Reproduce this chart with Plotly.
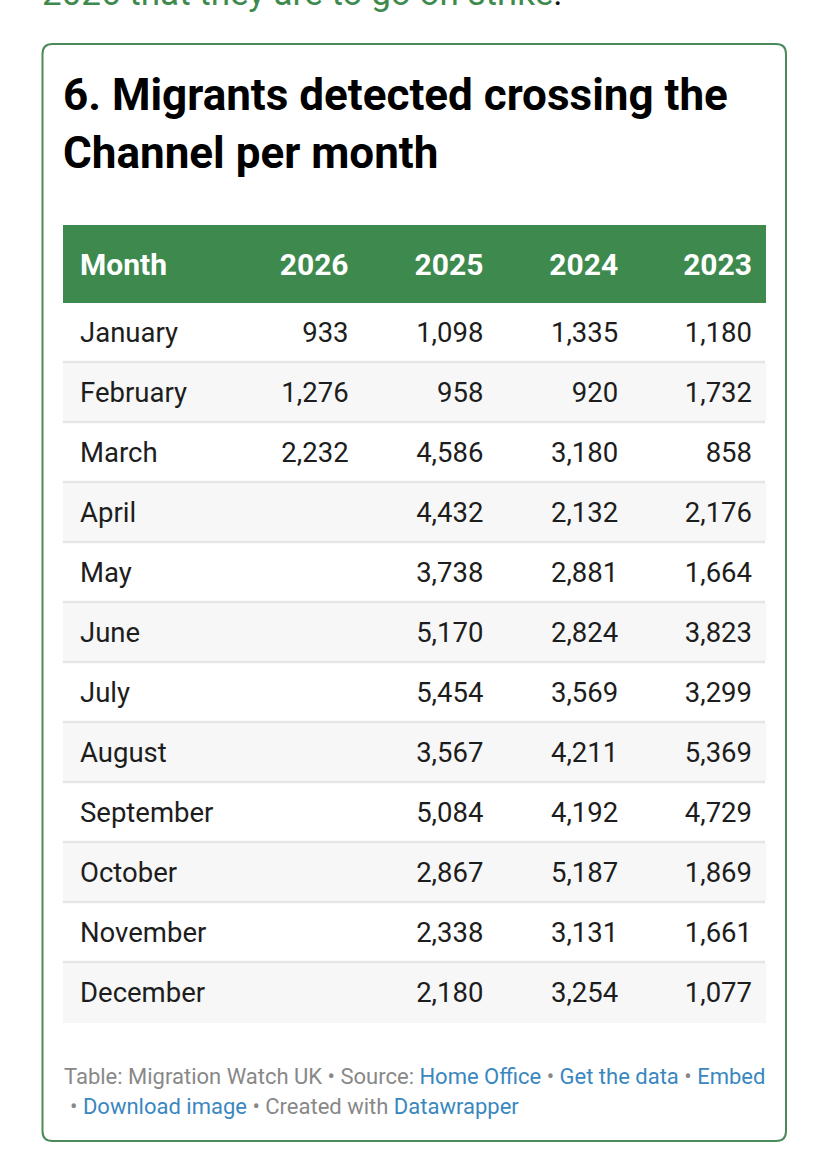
import plotly.graph_objects as go

W, H = 828, 1158

months = ["January", "February", "March", "April", "May", "June", "July",
          "August", "September", "October", "November", "December"]
years = ["2026", "2025", "2024", "2023"]
v2026 = [933, 1276, 2232, None, None, None, None, None, None, None, None, None]
v2025 = [1098, 958, 4586, 4432, 3738, 5170, 5454, 3567, 5084, 2867, 2338, 2180]
v2024 = [1335, 920, 3180, 2132, 2881, 2824, 3569, 4211, 4192, 5187, 3131, 3254]
v2023 = [1180, 1732, 858, 2176, 1664, 3823, 3299, 5369, 4729, 1869, 1661, 1077]

title_lines = ["6. Migrants detected crossing the", "Channel per month"]
GREEN = "#3e8a4e"
GREY = "#888888"
BLUE = "#3a87c0"

def X(px):
    return px / W

def Y(py):
    return 1 - py / H

def fmt(v):
    return "" if v is None else f"{v:,}"

cols = [months] + [[fmt(v) for v in s] for s in (v2026, v2025, v2024, v2023)]
row_fill = ["#ffffff" if i % 2 == 0 else "#f7f7f7" for i in range(len(months))]
fills = [row_fill for _ in cols]
aligns = ["left", "right", "right", "right", "right"]

TABLE_L, TABLE_R, TABLE_T = 63, 765, 225
HEADER_H, ROW_H = 77, 60
TABLE_B = TABLE_T + HEADER_H + ROW_H * len(months)

fig = go.Figure()
# background layer: fills only
fig.add_trace(go.Table(
    domain=dict(x=[X(TABLE_L), X(TABLE_R)], y=[Y(TABLE_B + 4), Y(TABLE_T)]),
    columnwidth=[162, 135, 135, 135, 135],
    header=dict(values=["", "", "", "", ""], fill_color=GREEN,
                line=dict(color=GREEN, width=1), height=HEADER_H),
    cells=dict(values=[["" for _ in months] for _ in cols],
               fill=dict(color=fills), line=dict(color=fills, width=1),
               height=ROW_H),
))

# text layer, offset so text sits vertically centred in the rows
DH, DC = 14, 11   # vertical text offsets (header, cells)
TL, TR = 72, 761
fig.add_trace(go.Table(
    domain=dict(x=[X(TL), X(TR)], y=[Y(TABLE_B + DC + 10), Y(TABLE_T + DH)]),
    columnwidth=[150, 135, 135, 135, 134],
    header=dict(
        values=["<b>Month</b>"] + [f"<b>{y}</b>" for y in years],
        fill_color="rgba(0,0,0,0)",
        line=dict(color="rgba(0,0,0,0)", width=0),
        align=aligns,
        font=dict(family="Roboto", size=30, color="white"),
        height=HEADER_H + DC - DH,
    ),
    cells=dict(
        values=cols,
        fill=dict(color="rgba(0,0,0,0)"),
        line=dict(color="rgba(0,0,0,0)", width=0),
        align=aligns,
        font=dict(family="Roboto", size=27.5, color="#1d1d1d"),
        height=ROW_H,
    ),
))

shapes = []
# row separators
for i in range(1, len(months)):
    yy = TABLE_T + HEADER_H + ROW_H * i
    shapes.append(dict(type="line", xref="paper", yref="paper",
                       x0=X(TABLE_L), x1=X(TABLE_R), y0=Y(yy), y1=Y(yy),
                       line=dict(color="#e6e6e6", width=2.5), layer="above"))

# rounded card border
x0, x1, y0, y1, r = 42.5, 786, 44, 1141, 10
path = (f"M {X(x0 + r)},{Y(y0)} L {X(x1 - r)},{Y(y0)} "
        f"Q {X(x1)},{Y(y0)} {X(x1)},{Y(y0 + r)} "
        f"L {X(x1)},{Y(y1 - r)} Q {X(x1)},{Y(y1)} {X(x1 - r)},{Y(y1)} "
        f"L {X(x0 + r)},{Y(y1)} Q {X(x0)},{Y(y1)} {X(x0)},{Y(y1 - r)} "
        f"L {X(x0)},{Y(y0 + r)} Q {X(x0)},{Y(y0)} {X(x0 + r)},{Y(y0)} Z")
shapes.append(dict(type="path", xref="paper", yref="paper", path=path,
                   line=dict(color="#4a8a5a", width=2)))

annotations = []
# cut-off text above card (as in the reference)
annotations.append(dict(text="2026 that they are to go on strike<span style='color:#111'>.</span>",
                        x=X(40), y=Y(-7),
                        xref="paper", yref="paper", xanchor="left", yanchor="middle",
                        showarrow=False, font=dict(family="Roboto", size=35, color="#3e8a4e")))
for i, line in enumerate(title_lines):
    annotations.append(dict(text=f"<b>{line}</b>", x=X(61), y=Y(95 + 58 * i),
                            xref="paper", yref="paper", xanchor="left", yanchor="middle",
                            showarrow=False,
                            font=dict(family="Roboto", size=44, color="#000000")))

def link(t):
    return f"<span style='color:{BLUE}'>{t}</span>"

foot1 = ("Table: Migration Watch UK • Source: " + link("Home Office") + " • "
         + link("Get the data") + " • " + link("Embed"))
foot2 = "• " + link("Download image") + " • Created with " + link("Datawrapper")
for i, t in enumerate([foot1, foot2]):
    annotations.append(dict(text=t, x=X(62 if i == 0 else 68), y=Y(1076 + 30 * i),
                            xref="paper", yref="paper", xanchor="left", yanchor="middle",
                            showarrow=False,
                            font=dict(family="Roboto", size=22, color=GREY)))

fig.update_layout(
    width=W, height=H,
    margin=dict(l=0, r=0, t=0, b=0),
    paper_bgcolor="white",
    plot_bgcolor="white",
    shapes=shapes,
    annotations=annotations,
)

fig.write_html("out.html", config={"displayModeBar": False},
               post_script="document.body.style.margin='0';")
